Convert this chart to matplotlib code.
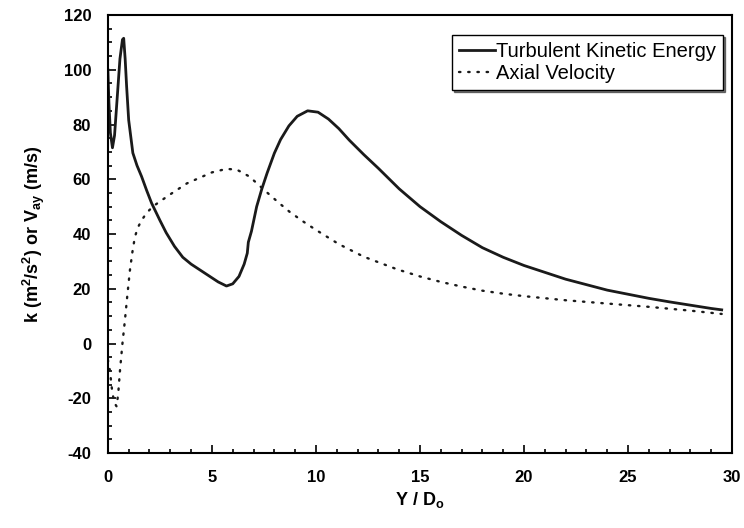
import numpy as np
import matplotlib
matplotlib.use('Agg')
import matplotlib.pyplot as plt
from matplotlib.ticker import MultipleLocator

plt.rcParams['font.family'] = ['Liberation Sans', 'DejaVu Sans']
plt.rcParams['mathtext.fontset'] = 'custom'
plt.rcParams['mathtext.rm'] = 'Liberation Sans:bold'
plt.rcParams['mathtext.it'] = 'Liberation Sans:bold'
plt.rcParams['mathtext.bf'] = 'Liberation Sans:bold'
plt.rcParams['mathtext.default'] = 'rm'
plt.rcParams['axes.unicode_minus'] = False

# Turbulent kinetic energy
tke_x = [0, 0.05, 0.12, 0.22, 0.32, 0.45, 0.58, 0.7, 0.76, 0.83, 0.9, 1.0, 1.2,
         1.4, 1.62, 1.86, 2.1, 2.5, 2.8, 3.2, 3.6, 4.0, 4.4, 4.9, 5.3, 5.7, 6.0,
         6.3, 6.55, 6.7, 6.75, 6.9, 7.15, 7.4, 7.65, 8.0, 8.3, 8.7, 9.1, 9.6,
         10.1, 10.6, 11.1, 11.6, 12.3, 13, 14, 15, 16, 17, 18, 19, 20, 21, 22,
         23, 24, 25, 26, 27, 28, 29, 29.5]
tke_y = [100, 88, 77, 71.5, 76, 90, 104, 111, 111.5, 104, 94, 81.6, 69.6,
         65, 61, 56, 51.3, 45, 40.5, 35.5, 31.5, 29, 27, 24.5, 22.5, 21, 21.8,
         24.5, 29, 33, 37, 41, 50, 56.5, 62.2, 69.5, 74.5, 79.5, 83, 85,
         84.5, 82, 78.5, 74.3, 69, 64, 56.5, 50, 44.5, 39.5, 35, 31.5, 28.5, 26, 23.5,
         21.5, 19.5, 18, 16.5, 15.2, 14, 12.8, 12.3]

# Axial velocity
vel_x = [0, 0.1, 0.2, 0.3, 0.42, 0.5, 0.58, 0.7, 0.82, 0.94, 1.06, 1.18, 1.3,
         1.45, 1.62, 1.8, 2.0, 2.3, 2.6, 3.0, 3.3, 3.8, 4.4, 5.0, 5.7, 6.2, 6.8,
         7.6, 8.2, 8.75, 9.4, 10.0, 11.1, 12.3, 13.9, 15, 16, 17, 18, 19, 20,
         22, 24, 26, 28, 29.5]
vel_y = [-6, -10, -17, -21.5, -23, -18, -10, 0, 8.6, 18, 26.8, 33.5, 39,
         42.5, 45, 47, 48.8, 50.8, 52.4, 54.5, 56, 58.5, 60.5, 62.5, 63.8, 63.5, 61,
         55.5, 51.5, 48, 44.5, 41.5, 36.3, 31.7, 27.1, 24.5, 22.5, 20.8, 19.3, 18.2, 17.3,
         15.8, 14.6, 13.4, 12, 10.8]

fig = plt.figure(figsize=(7.44, 5.28), dpi=100)
ax = fig.add_axes([0.145, 0.142, 0.839, 0.8296])

ax.plot(tke_x, tke_y, color='#1a1a1a', lw=2.0, label='Turbulent Kinetic Energy')
ax.plot(vel_x, vel_y, color='#1a1a1a', lw=1.7, linestyle=(0, (0.6, 3.3)),
        dash_capstyle='round', label='Axial Velocity')

ax.set_xlim(0, 30)
ax.set_ylim(-40, 120)
ax.xaxis.set_major_locator(MultipleLocator(5))
ax.xaxis.set_minor_locator(MultipleLocator(1))
ax.yaxis.set_major_locator(MultipleLocator(20))
ax.yaxis.set_minor_locator(MultipleLocator(5))
ax.tick_params(which='both', direction='in', top=False, right=False, width=1.2)
ax.tick_params(which='major', length=6, pad=12, labelsize=12)
ax.tick_params(which='minor', length=3)
for lab in ax.get_xticklabels() + ax.get_yticklabels():
    lab.set_fontweight('bold')
for s in ax.spines.values():
    s.set_linewidth(1.5)

ax.set_xlabel('Y / D$_o$', fontsize=13, fontweight='bold', labelpad=4)
ax.set_ylabel('k (m$^2$/s$^2$) or V$_{ay}$ (m/s)', fontsize=13, fontweight='bold', labelpad=12)

leg = ax.legend(loc='upper right', bbox_to_anchor=(0.9856, 0.954), borderaxespad=0,
                fontsize=14.5, fancybox=False, edgecolor='black', framealpha=1,
                shadow={'color': 'black', 'ox': 1.5, 'oy': -1.5}, handlelength=1.8,
                handletextpad=0.05, borderpad=0.35, labelspacing=0.12)
leg.get_frame().set_linewidth(1.0)

fig.savefig('out.png', dpi=100)
